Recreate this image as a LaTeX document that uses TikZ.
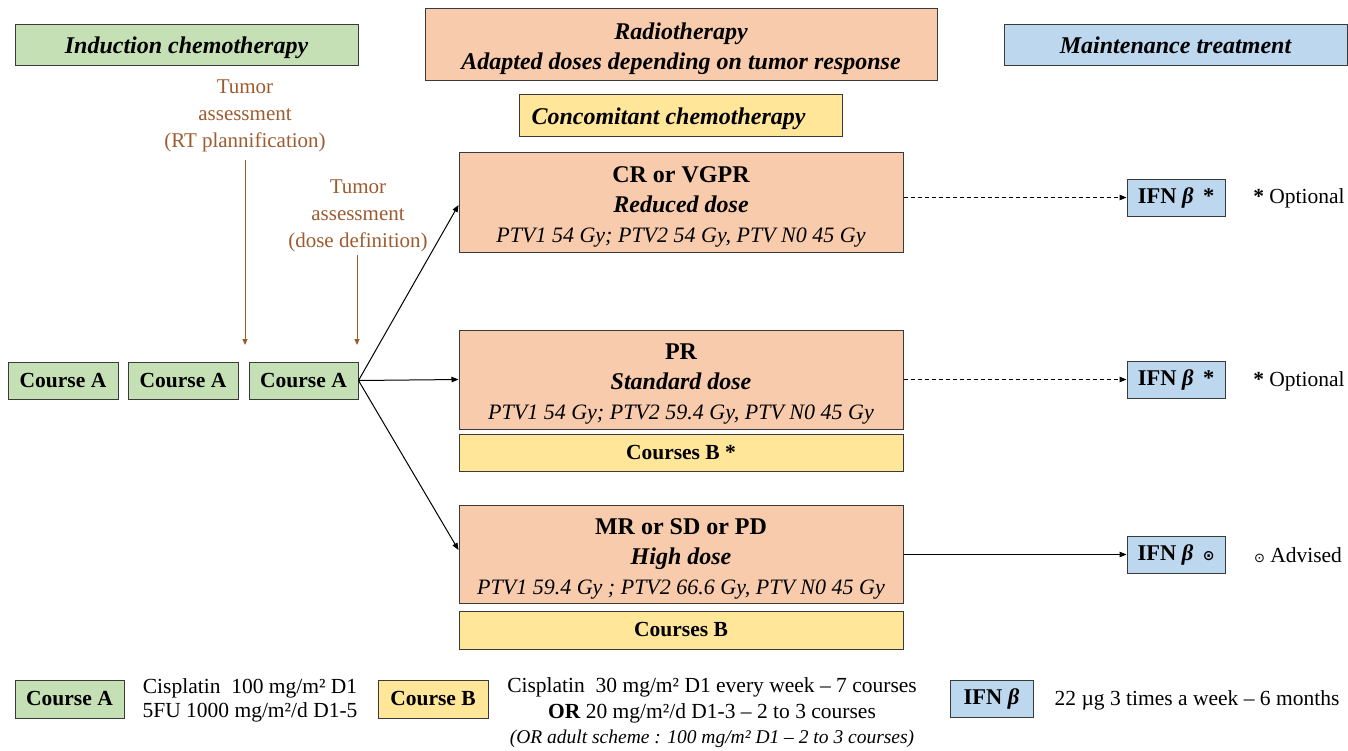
\documentclass[tikz,border=0pt]{standalone}
\usepackage{fontspec}
\setmainfont{Liberation Serif}
\newfontfamily\symfont{DejaVu Sans}
\usetikzlibrary{arrows.meta}
\definecolor{cgreen}{HTML}{C5E0B4}
\definecolor{corange}{HTML}{F8CBAD}
\definecolor{cblue}{HTML}{BDD7EE}
\definecolor{cyellow}{HTML}{FFE699}
\definecolor{cbrown}{HTML}{9E5B2E}
\definecolor{cborder}{HTML}{3A3A3A}
\newcommand{\topstrut}{\rule{0pt}{25.5pt}}
\tikzset{
  bx/.style={draw=cborder, line width=1pt, inner sep=0pt, align=center, text=black},
  gbox/.style={bx, fill=cgreen},
  obox/.style={bx, fill=corange},
  bbox/.style={bx, fill=cblue},
  ybox/.style={bx, fill=cyellow},
  sz/.style 2 args={minimum width=#1pt, minimum height=#2pt},
  hdr/.style={font=\fontsize{24}{30}\selectfont\bfseries\itshape},
  oneline/.style={text height=20pt, text depth=2pt},
  crs/.style={font=\fontsize{21.5}{24}\selectfont\bfseries},
  resp/.style={font=\fontsize{22}{30}\selectfont},
  brn/.style={text=cbrown, align=center, font=\fontsize{21}{27}\selectfont},
  lgd/.style={align=center, font=\fontsize{21.5}{24}\selectfont},
  barrow/.style={draw=cbrown, line width=1pt, -{Triangle[length=6pt,width=5pt]}},
  karrow/.style={draw=black, line width=1pt, -{Triangle[length=7pt,width=5.5pt]}},
  darrow/.style={karrow, dash pattern=on 4pt off 3pt},
}
\begin{document}
\begin{tikzpicture}[x=1pt,y=-1pt]
\useasboundingbox (0,0) rectangle (1348,750);
% headers
\node[gbox, sz={343}{41}, hdr, oneline] (ind) at (186.5,44.5) {Induction chemotherapy};
\node[obox, sz={512}{72}, hdr] (rad) at (681,44) {\topstrut Radiotherapy\\Adapted doses depending on tumor response};
\node[bbox, sz={343}{41}, hdr, oneline] (mnt) at (1175.5,44.5) {Maintenance treatment};
\node[ybox, sz={323}{42}, hdr, oneline] (conc) at (680.5,115) {Concomitant chemotherapy\hspace*{24pt}};
% tumor assessments
\node[brn] (ta1) at (245,115.5) {Tumor\\assessment\\(RT plannification)};
\node[brn] (ta2) at (358,215.5) {Tumor\\assessment\\(dose definition)};
\coordinate (t1) at (245,345);
\coordinate (t2) at (357,345);
\draw[barrow] (ta1.south |- 0,160) -- (t1);
\draw[barrow] (357,255) -- (t2);
% courses A
\node[gbox, sz={110}{37}, crs] (ca1) at (63,380.5) {Course A};
\node[gbox, sz={110}{37}, crs] (ca2) at (183,380.5) {Course A};
\node[gbox, sz={109}{37}, crs] (ca3) at (303.5,380.5) {Course A};
% response boxes
\node[obox, sz={444}{100}, resp] (cr) at (681,202) {\topstrut{\fontsize{24}{30}\selectfont\bfseries CR or VGPR}\\{\fontsize{24}{30}\selectfont\bfseries\itshape Reduced dose}\\{\itshape PTV1 54 Gy; PTV2 54 Gy, PTV N0 45 Gy}};
\node[obox, sz={444}{99}, resp] (pr) at (681,379.5) {\topstrut{\fontsize{24}{30}\selectfont\bfseries PR}\\{\fontsize{24}{30}\selectfont\bfseries\itshape Standard dose}\\{\itshape PTV1 54 Gy; PTV2 59.4 Gy, PTV N0 45 Gy}};
\node[ybox, sz={444}{37}, crs] (cbs) at (681,452.5) {Courses B *};
\node[obox, sz={444}{98}, resp] (mr) at (681,554) {\topstrut{\fontsize{24}{30}\selectfont\bfseries MR or SD or PD}\\{\fontsize{24}{30}\selectfont\bfseries\itshape High dose}\\{\itshape PTV1 59.4 Gy ; PTV2 66.6 Gy, PTV N0 45 Gy}};
\node[ybox, sz={444}{38}, crs] (cb) at (681,630) {Courses B};
% IFN
\node[bbox, sz={98}{37}, crs, font=\fontsize{22.5}{24}\selectfont\bfseries] (ifn1) at (1176,197.5) {IFN {\itshape β}\, *};
\node[bbox, sz={98}{37}, crs, font=\fontsize{22.5}{24}\selectfont\bfseries] (ifn2) at (1176,379.5) {IFN {\itshape β}\, *};
\node[bbox, sz={98}{37}, crs, font=\fontsize{22.5}{24}\selectfont\bfseries] (ifn3) at (1176,554.5) {IFN {\itshape β}\, {\symfont\fontsize{14}{14}\selectfont ⊙}};
\node[lgd] (opt1) at (1299,198) {{\bfseries *} Optional};
\node[lgd] (opt2) at (1299,381) {{\bfseries *} Optional};
\node[lgd] (adv) at (1298,555) {{\symfont\fontsize{13}{14}\selectfont ⊙} Advised};
% arrows
\draw[karrow] (ca3.east) -- (cr.west |- 0,205);
\draw[karrow] (ca3.east) -- (pr.west);
\draw[karrow] (ca3.east) -- (mr.west |- 0,550);
\draw[darrow] (cr.east |- ifn1.west) -- (ifn1.west);
\draw[darrow] (pr.east) -- (ifn2.west);
\draw[karrow] (mr.east |- ifn3.west) -- (ifn3.west);
% legend
\node[gbox, sz={109}{38}, crs] (la) at (69.5,699) {Course A};
\node[lgd] (lat) at (250,700) {Cisplatin\ \ 100 mg/m² D1\\5FU 1000 mg/m²/d D1-5};
\node[ybox, sz={110}{38}, crs] (lb) at (433,699) {Course B};
\node[lgd, font=\fontsize{21.5}{25.5}\selectfont] (lbt) at (712,713) {Cisplatin\ \ 30 mg/m² D1 every week – 7 courses\\{\bfseries OR} 20 mg/m²/d D1-3 – 2 to 3 courses\\{\itshape\fontsize{19.5}{25.5}\selectfont (OR adult scheme : 100 mg/m² D1 – 2 to 3 courses)}};
\node[bbox, sz={83}{37}, crs, font=\fontsize{22.5}{24}\selectfont\bfseries] (li) at (991.5,698.5) {IFN {\itshape β}};
\node[lgd] (lit) at (1197,700) {22 µg 3 times a week – 6 months};
\end{tikzpicture}
\end{document}
